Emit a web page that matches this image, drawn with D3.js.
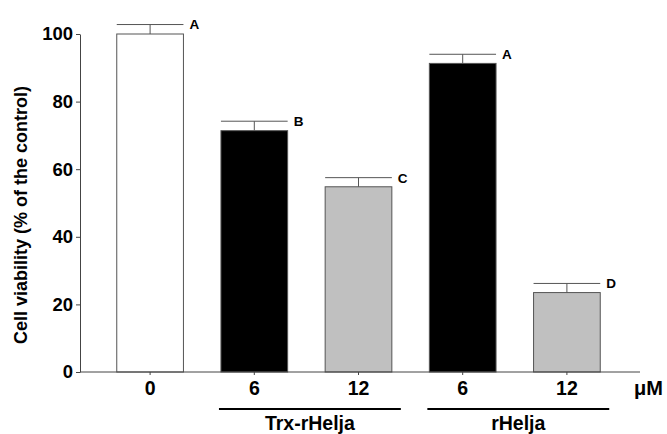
<!DOCTYPE html>
<html>
<head>
<meta charset="utf-8">
<script src="https://cdn.jsdelivr.net/npm/d3@7"></script>
<style>
  body { margin: 0; background: #fff; }
  svg { font-family: "Liberation Sans", Arial, sans-serif; font-weight: bold; }
  .axis path, .axis line { stroke: #444; }
</style>
</head>
<body>
<svg id="chart" width="667" height="434"></svg>
<script>
// chart values
const doses = ["0", "6", "12", "6", "12"];
const viability = [100, 71.4, 54.8, 91.3, 23.5];
const errors = [2.8, 2.8, 2.7, 2.7, 2.7];
const letters = ["A", "B", "C", "A", "D"];
const yTicks = [0, 20, 40, 60, 80, 100];
const groupNames = ["Trx-rHelja", "rHelja"];
const groupFirst = [1, 3];
const groupLast = [2, 4];

const width = 667, height = 434;
const margin = { top: 34, left: 80, bottom: 62, right: 27 };

const svg = d3.select("#chart");

const x = d3.scaleBand()
  .domain(d3.range(doses.length))
  .range([98, 619])
  .paddingInner(0.36)
  .paddingOuter(0.18);

const y = d3.scaleLinear()
  .domain([0, 100])
  .range([height - margin.bottom, margin.top]);

const shade = d3.scaleOrdinal()
  .domain(["0", "6", "12"])
  .range(["#ffffff", "#000000", "#c0c0c0"]);

// y axis
const yAxis = svg.append("g")
  .attr("class", "axis")
  .attr("transform", `translate(${margin.left},0)`)
  .call(d3.axisLeft(y).tickValues(yTicks).tickSize(4).tickSizeOuter(0).tickPadding(3));
yAxis.selectAll("text").style("font-size", "18.5px").attr("fill", "#000");

svg.append("text")
  .attr("transform", `translate(27,${(y(0) + y(100)) / 2 + 12}) rotate(-90)`)
  .attr("text-anchor", "middle")
  .style("font-size", "18px")
  .text("Cell viability (% of the control)");

// bars
const idx = d3.range(doses.length);

svg.append("g").selectAll("rect")
  .data(idx)
  .enter()
  .append("rect")
  .attr("x", i => x(i))
  .attr("y", i => y(viability[i]))
  .attr("width", x.bandwidth())
  .attr("height", i => y(0) - y(viability[i]))
  .attr("fill", i => shade(doses[i]))
  .attr("stroke", "#555")
  .attr("stroke-width", 1);

// error bars (upper only)
const err = svg.append("g").attr("stroke", "#555").attr("stroke-width", 1);
err.selectAll(".stem")
  .data(idx)
  .enter()
  .append("line")
  .attr("x1", i => x(i) + x.bandwidth() / 2)
  .attr("x2", i => x(i) + x.bandwidth() / 2)
  .attr("y1", i => y(viability[i]))
  .attr("y2", i => y(viability[i] + errors[i]));
err.selectAll(".cap")
  .data(idx)
  .enter()
  .append("line")
  .attr("x1", i => x(i))
  .attr("x2", i => x(i) + x.bandwidth())
  .attr("y1", i => y(viability[i] + errors[i]))
  .attr("y2", i => y(viability[i] + errors[i]));

// significance letters
svg.append("g").selectAll("text")
  .data(idx)
  .enter()
  .append("text")
  .attr("x", i => x(i) + x.bandwidth() + 6)
  .attr("y", i => y(viability[i] + errors[i]))
  .attr("dy", "0.36em")
  .style("font-size", "13.5px")
  .text(i => letters[i]);

// x axis
const xAxis = svg.append("g")
  .attr("class", "axis")
  .attr("transform", `translate(0,${y(0)})`)
  .call(d3.axisBottom(x).tickFormat(i => doses[i]).tickSize(3).tickSizeOuter(0).tickPadding(6));
xAxis.select(".domain").attr("d", `M${margin.left},0H${width - margin.right}`);
xAxis.selectAll("text").style("font-size", "19.5px").attr("fill", "#000");

svg.append("text")
  .attr("x", 634)
  .attr("y", y(0) + 23)
  .style("font-size", "20px")
  .text("μM");

// treatment groups
groupNames.forEach((name, g) => {
  const x0 = x(groupFirst[g]) - 2;
  const x1 = x(groupLast[g]) + x.bandwidth() + 9;
  svg.append("line")
    .attr("x1", x0).attr("x2", x1)
    .attr("y1", y(0) + 37).attr("y2", y(0) + 37)
    .attr("stroke", "#000")
    .attr("stroke-width", 2);
  svg.append("text")
    .attr("x", (x0 + x1) / 2)
    .attr("y", y(0) + 58)
    .attr("text-anchor", "middle")
    .style("font-size", "19.5px")
    .text(name);
});
</script>
</body>
</html>
